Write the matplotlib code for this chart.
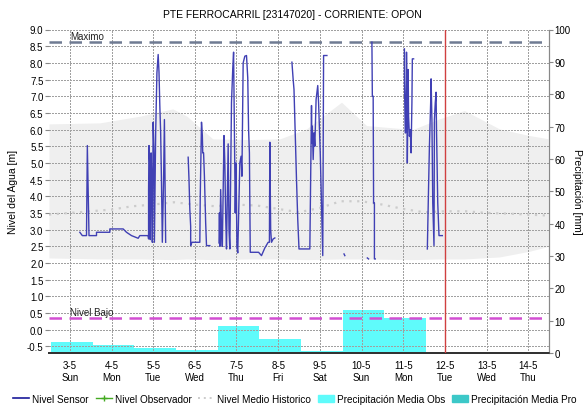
import numpy as np
import matplotlib
matplotlib.use("Agg")
import matplotlib.pyplot as plt
from matplotlib.lines import Line2D
from matplotlib.patches import Patch

plt.rcParams['font.family'] = ['Liberation Sans', 'DejaVu Sans']

# days of May (fractional) for the tick labels
tick_days = [3, 4, 5, 6, 7, 8, 9, 10, 11, 12, 13, 14]
tick_names = ['Sun', 'Mon', 'Tue', 'Wed', 'Thu', 'Fri', 'Sat', 'Sun', 'Mon', 'Tue', 'Wed', 'Thu']

# sensor level [m]; NaN splits the record where data is missing
nan = np.nan
sensor_day = [
    3.24, 3.30, 3.40, 3.41, 3.42, 3.43, 3.44, 3.46, 3.64, 3.64, 3.96, 3.96, 4.28, 4.36, 4.48, 4.64, 4.68, 4.88,
    4.89, 4.89, 4.90, 4.92, 4.93, 4.95, 4.97, 4.98, 5.00, 5.02, 5.03, 5.06, 5.09, 5.12, 5.14, 5.16, 5.18, 5.20,
    5.22, 5.25, 5.27, 5.29, 5.30, nan,
    5.84, 5.86, 5.88, 5.90, 5.90, 5.93, 6.12, 6.13, 6.16, 6.18, 6.19, 6.21, 6.23, 6.26, 6.28, 6.36, nan,
    6.58, 6.59, 6.60, 6.62, 6.64, 6.66, 6.70, 6.72, 6.74, 6.76, 6.80, 6.82, 6.84, 6.88, 6.91, 6.93, 6.95, 6.97,
    6.99, 7.01, 7.03, 7.06, 7.08, 7.11, 7.13, 7.16, 7.20, 7.24, 7.27, 7.29, 7.31, 7.33, 7.53, 7.60, 7.68, 7.76,
    7.79, 7.80, 7.82, 7.84, 7.88, 7.92, nan,
    8.33, 8.36, 8.38, 8.40, 8.42, 8.44, 8.47, 8.50, 8.76, 8.77, 8.80, 8.81, 8.82, 8.84, 8.86, 8.88, 8.91, 8.95,
    8.97, 8.99, 9.01, 9.04, 9.07, 9.09, 9.17, nan,
    9.58, 9.60, nan,
    10.14, 10.17, nan,
    10.25, 10.26, 10.28, 10.29, 10.31, 10.31, 10.33, nan,
    11.03, 11.03, 11.05, 11.06, 11.08, 11.09, 11.10, 11.12, 11.13, 11.15, 11.17, 11.19, 11.21, 11.22, 11.25, nan,
    11.58, 11.59, 11.61, 11.63, 11.66, 11.67, 11.69, 11.71, 11.74, 11.75, 11.77, 11.79, 11.80, 11.83, 11.86, 11.94,
]
sensor_level = [
    2.92, 2.82, 2.82, 4.20, 5.52, 4.80, 4.20, 2.82, 2.82, 2.92, 2.92, 3.02, 3.02, 2.92, 2.82, 2.74, 2.82, 2.82,
    2.72, 4.20, 5.52, 4.90, 2.70, 5.30, 4.20, 2.62, 6.22, 5.30, 2.62, 5.90, 7.70, 8.25, 7.72, 6.70, 5.90, 4.40,
    2.62, 4.50, 6.30, 4.00, 2.62, nan,
    5.17, 4.50, 3.60, 3.10, 2.52, 2.62, 2.62, 4.00, 6.22, 5.82, 5.30, 5.30, 4.60, 3.20, 2.52, 2.52, nan,
    2.60, 3.50, 2.50, 4.20, 3.00, 2.50, 5.82, 5.00, 3.40, 2.42, 5.57, 3.00, 2.42, 6.82, 7.82, 8.32, 6.00, 3.50,
    5.00, 2.50, 2.30, 4.00, 5.00, 5.20, 4.60, 8.00, 8.20, 8.22, 7.55, 6.00, 5.30, 2.32, 2.32, 2.22, 2.45, 2.62,
    2.62, 5.62, 3.00, 2.62, 2.72, 2.75, nan,
    8.02, 7.50, 7.20, 6.30, 5.40, 4.50, 3.30, 2.42, 2.42, 3.50, 6.72, 5.60, 6.10, 5.10, 5.90, 5.50, 6.90, 7.32,
    6.80, 6.00, 5.30, 3.70, 2.22, 8.22, 8.22, nan,
    2.27, 2.22, nan,
    2.15, 2.12, nan,
    8.62, 7.00, 7.00, 3.80, 3.80, 2.12, 2.12, nan,
    8.42, 7.50, 5.90, 5.90, 8.32, 7.50, 5.00, 7.80, 6.40, 5.80, 6.00, 5.30, 6.80, 8.12, 8.12, nan,
    2.42, 3.00, 4.30, 5.50, 6.80, 7.52, 6.30, 3.80, 2.52, 6.30, 6.80, 7.12, 6.00, 3.80, 2.82, 2.82,
]

# observer readings (none in this period)
observer_day = []
observer_level = []

# historical mean level and its range [m]
hist_day = [2.5, 3.0, 3.5, 4.0, 4.5, 5.0, 5.5, 6.0, 6.5, 7.0, 7.5, 8.0, 8.5, 9.0, 9.5, 10.0, 10.5,
            11.0, 11.5, 12.0, 12.5, 13.0, 13.5, 14.0, 14.5]
hist_mean = [3.45, 3.50, 3.55, 3.60, 3.70, 3.75, 3.82, 3.75, 3.70, 3.75, 3.72, 3.62, 3.52, 3.65, 3.85, 3.85,
             3.75, 3.62, 3.52, 3.55, 3.55, 3.50, 3.48, 3.45, 3.42]
band_day = [2.5, 3.72, 4.68, 5.47, 5.81, 6.43, 7.32, 8.04, 8.68, 9.52, 10.12, 11.23, 11.87, 12.47, 13.31,
            14.03, 14.5]
band_high = [6.17, 6.20, 6.40, 6.62, 6.40, 5.72, 5.70, 5.72, 6.02, 6.82, 6.12, 6.00, 6.32, 6.57, 6.02, 5.82, 5.72]
band_low = [2.15, 2.12, 2.12, 2.10, 2.12, 2.10, 2.12, 2.12, 2.10, 2.12, 2.12, 2.10, 2.12, 2.12, 2.18, 2.35, 2.50]

# daily observed rainfall [mm]
rain_day = [3, 4, 5, 6, 7, 8, 9, 10, 11]
rain_obs = [3.5, 2.5, 1.5, 1.0, 8.3, 4.4, 0.7, 13.3, 10.8]

nivel_maximo = 8.62
nivel_bajo = 0.34
now_day = 12.0

fig = plt.figure(figsize=(5.84, 4.06), dpi=100)
ax = fig.add_axes([49 / 584, 1 - 354 / 406, 500 / 584, 323.5 / 406])
ax2 = ax.twinx()
# level axes drawn above the rainfall bars
ax.set_zorder(ax2.get_zorder() + 1)
ax.patch.set_visible(False)

ax2.bar(np.array(rain_day) - 0.45, rain_obs, width=1.0, align='edge', color='#5ffbfb', linewidth=0)
ax2.set_ylim(0, 100)
ax2.set_yticks(range(0, 101, 10))

ax.fill_between(band_day, band_low, band_high, color='#efefef', linewidth=0, zorder=0)
ax.plot(hist_day, hist_mean, color='#cccccc', linestyle=(0, (1, 2.5)), lw=1.6, zorder=1)
ax.plot(sensor_day, sensor_level, color='#4040b4', lw=1.0, zorder=3)
ax.plot(observer_day, observer_level, color='#44aa22', marker='+')

# crisp 1-px dotted grid at every tick
grid_kw = dict(color='#a0a0a0', lw=0.72, linestyle=(0, (1.4, 1.4)), antialiased=False, zorder=0.6)
for d in tick_days:
    ax.axvline(d, **grid_kw)
for v in np.arange(-0.5, 9.01, 0.5):
    ax.axhline(v, **grid_kw)

ax.axhline(nivel_maximo, color='#6f7b92', lw=1.8, dashes=(5, 3), zorder=2)
ax.axhline(nivel_bajo, color='#d24fd2', lw=1.8, dashes=(5, 3), zorder=2)
ax.axvline(now_day, color='#d04040', lw=1.0, zorder=4)
ax.text(3.0, nivel_maximo + 0.03, 'Maximo', fontsize=7, va='bottom', ha='left', color='#222222')
ax.text(3.0, nivel_bajo + 0.03, 'Nivel Bajo', fontsize=7, va='bottom', ha='left', color='#222222')

ax.set_xlim(2.5, 14.5)
ax.set_ylim(-0.7, 9.0)
ax.set_yticks(np.arange(-0.5, 9.01, 0.5))
ax.set_yticklabels(['%.1f' % v for v in np.arange(-0.5, 9.01, 0.5)])
ax.set_xticks(tick_days)
ax.set_xticklabels(['%d-5\n%s' % (d, n) for d, n in zip(tick_days, tick_names)])

for a in (ax, ax2):
    a.spines['top'].set_visible(False)
    a.spines['left'].set_visible(False)
    a.spines['right'].set_color('#888888')
    a.spines['bottom'].set_color('#333333')
    a.spines['bottom'].set_linestyle((0, (1, 1)))
    a.spines['bottom'].set_linewidth(1.4)
ax.tick_params(axis='y', length=3, color='#888888', labelsize=7, pad=1)
ax2.tick_params(axis='y', length=3, color='#888888', labelsize=7, pad=1)
ax.tick_params(axis='x', length=0, labelsize=7, pad=5)

ax.set_ylabel('Nivel del Agua [m]', fontsize=7.5, labelpad=6)
ax2.set_ylabel('Precipitación [mm]', fontsize=7.5, rotation=270, labelpad=8)
fig.text(0.5, 1 - 15 / 406, 'PTE FERROCARRIL [23147020] - CORRIENTE: OPON', ha='center', va='center', fontsize=7.5)

handles = [
    Line2D([], [], color='#1a1a99', lw=1.2),
    Line2D([], [], color='#44aa22', marker='+', markersize=4, lw=1.0),
    Line2D([], [], color='#cccccc', linestyle=(0, (1, 2)), lw=1.4),
    Patch(color='#5ffbfb'),
    Patch(color='#3cc8c8'),
]
labels = ['Nivel Sensor', 'Nivel Observador', 'Nivel Medio Historico', 'Precipitación Media Obs',
          'Precipitación Media Pro']
fig.legend(handles, labels, loc='lower left', bbox_to_anchor=(0.012, -0.012), ncol=5, frameon=False,
           fontsize=7.2, handlelength=1.6, handletextpad=0.3, columnspacing=0.7, borderaxespad=0.2)

fig.savefig('out.png', dpi=100)
